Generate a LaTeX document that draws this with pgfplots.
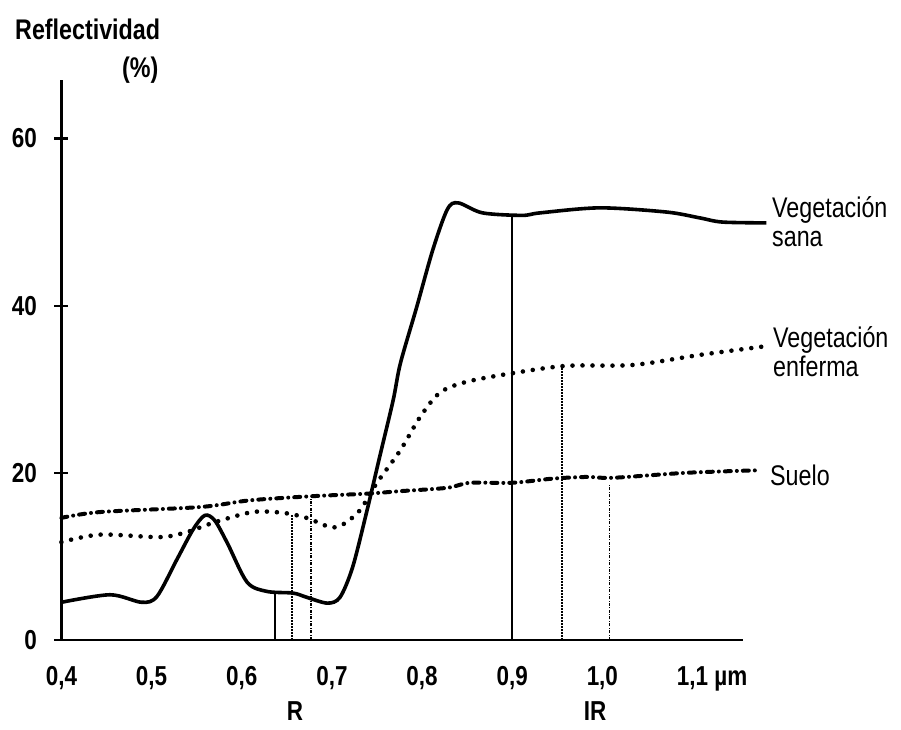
\documentclass[border=0pt]{standalone}
\usepackage{fontspec}
\setmainfont{Liberation Sans}[FakeStretch=0.82]
\usepackage{pgfplots}
\pgfplotsset{compat=1.18}
\newcommand{\lab}{\fontsize{28.5}{32}\selectfont}
\newcommand{\tlab}{\fontsize{27.5}{30}\selectfont\bfseries}
\begin{document}
\begin{tikzpicture}[x=1bp,y=1bp]
\useasboundingbox (0,0) rectangle (901,730);
\begin{axis}[
  at={(61.4bp,90.1bp)}, anchor=south west,
  scale only axis, width=681.6bp, height=559.9bp,
  xmin=0.4, xmax=1.156, ymin=0, ymax=67,
  axis lines=left,
  axis line style={-, line width=2.6bp, black},
  clip=false,
  xtick={0.4,0.5,0.6,0.7,0.8,0.9,1.0,1.1},
  xticklabels={{0,4},{0,5},{0,6},{0,7},{0,8},{0,9},{1,0},{1,1\rlap{\ µm}}},
  ytick={0,20,40,60}, yticklabels={0,20,40,60},
  x tick style={draw=none},
  y tick style={line width=2.2bp, black},
  tick align=center, major tick length=14bp,
  tick label style={font=\tlab},
  xticklabel style={yshift=-16bp},
  yticklabel style={xshift=-14bp},
]
% healthy vegetation
\addplot[black, line width=3.6bp, smooth, tension=0.5] coordinates {
(0.4,4.5) (0.454,5.4) (0.489,4.5) (0.506,5.2) (0.528,9.6) (0.546,13.2)
(0.559,14.9) (0.570,14.3) (0.584,11.6) (0.606,6.9) (0.628,5.8) (0.657,5.6)
(0.672,5.1) (0.695,4.4) (0.709,5.1) (0.723,8.7) (0.739,15.5) (0.753,21.9)
(0.768,28.7) (0.776,33.1) (0.794,39.8) (0.812,46.7) (0.828,51.5) (0.84,52.3)
(0.867,51.1) (0.911,50.8) (0.931,51.1) (0.997,51.7) (1.071,51.2) (1.108,50.5)
(1.133,50.0) (1.182,49.9)};
% diseased vegetation
\addplot[black, line width=4.6bp, line cap=round, dash pattern=on 0bp off 10bp, smooth, tension=0.5] coordinates {
(0.4,11.7) (0.443,12.6) (0.509,12.3) (0.539,12.9) (0.568,14.0) (0.612,15.3)
(0.646,15.2) (0.672,14.6) (0.698,13.5) (0.712,13.8) (0.731,15.5) (0.75,18.8)
(0.776,22.7) (0.798,26.7) (0.82,29.6) (0.85,30.9) (0.905,32.0) (0.961,32.8)
(1.034,32.9) (1.108,34.1) (1.178,35.1)};
% soil
\addplot[black, line width=4bp, line cap=round, dash pattern=on 6bp off 6bp on 0bp off 6bp, smooth, tension=0.5] coordinates {
(0.4,14.6) (0.443,15.3) (0.554,15.9) (0.609,16.7) (0.679,17.2) (0.739,17.5)
(0.776,17.8) (0.828,18.2) (0.853,18.8) (0.9,18.8) (0.945,19.3) (0.983,19.5)
(1.012,19.4) (1.094,20.0) (1.175,20.3)};
% vertical band lines
\addplot[black, line width=1.6bp] coordinates {(0.637,0) (0.637,5.7)};
\addplot[black, line width=1.5bp, dash pattern=on 1.5bp off 1.5bp] coordinates {(0.656,0) (0.656,14.9)};
\addplot[black, line width=1.5bp, dash pattern=on 3bp off 1.5bp on 0.8bp off 1.5bp] coordinates {(0.677,0) (0.677,17.0)};
\addplot[black, line width=1.6bp] coordinates {(0.9,0) (0.9,50.8)};
\addplot[black, line width=1.5bp, dash pattern=on 1.5bp off 1.5bp] coordinates {(0.955,0) (0.955,32.6)};
\addplot[black, line width=1.5bp, dash pattern=on 3bp off 1.5bp on 0.8bp off 1.5bp] coordinates {(1.008,0) (1.008,18.7)};
\end{axis}
\node[anchor=base west, inner sep=0, font=\lab\bfseries] at (15,690) {Reflectividad};
\node[anchor=base west, inner sep=0, font=\lab\bfseries] at (122,652) {(\%)};
\node[anchor=base west, inner sep=0, font=\lab] at (772,512) {Vegetación};
\node[anchor=base west, inner sep=0, font=\lab] at (772,483) {sana};
\node[anchor=base west, inner sep=0, font=\lab] at (773,382) {Vegetación};
\node[anchor=base west, inner sep=0, font=\lab] at (773,353) {enferma};
\node[anchor=base west, inner sep=0, font=\lab] at (770,244) {Suelo};
\node[anchor=base, inner sep=0, font=\tlab] at (295,9) {R};
\node[anchor=base, inner sep=0, font=\tlab] at (595,9) {IR};
\end{tikzpicture}
\end{document}
